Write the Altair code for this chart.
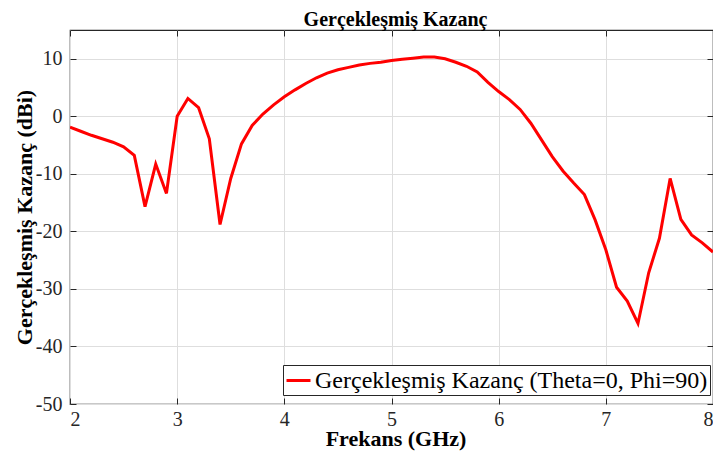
import altair as alt
import pandas as pd

freq = [2.0, 2.1, 2.2, 2.3, 2.4, 2.5, 2.6, 2.7, 2.8, 2.9,
        3.0, 3.1, 3.2, 3.3, 3.4, 3.5, 3.6, 3.7, 3.8, 3.9,
        4.0, 4.1, 4.2, 4.3, 4.4, 4.5, 4.6, 4.7, 4.8, 4.9,
        5.0, 5.1, 5.2, 5.3, 5.4, 5.5, 5.6, 5.7, 5.8, 5.9,
        6.0, 6.1, 6.2, 6.3, 6.4, 6.5, 6.6, 6.7, 6.8, 6.9,
        7.0, 7.1, 7.2, 7.3, 7.4, 7.5, 7.6, 7.7, 7.8, 7.9, 8.0]
gain = [-1.9, -2.6, -3.3, -3.9, -4.5, -5.3, -6.8, -15.7, -8.3, -13.4,
        0.0, 3.1, 1.5, -3.9, -18.8, -10.8, -4.8, -1.6, 0.4, 2.0,
        3.4, 4.6, 5.7, 6.7, 7.5, 8.1, 8.5, 8.9, 9.2, 9.4,
        9.7, 9.9, 10.1, 10.3, 10.3, 10.0, 9.4, 8.7, 7.7, 5.9,
        4.3, 2.9, 1.2, -1.2, -4.1, -7.0, -9.5, -11.6, -13.6, -18.0,
        -23.2, -29.7, -32.1, -36.0, -27.2, -21.2, -10.8, -17.9, -20.6, -22.0, -23.6]
series_name = "Gerçekleşmiş Kazanç (Theta=0, Phi=90)"
chart_title = "Gerçekleşmiş Kazanç"
x_title = "Frekans (GHz)"
y_title = "Gerçekleşmiş Kazanç (dBi)"
x_ticks = [2, 3, 4, 5, 6, 7, 8]
y_ticks = [10, 0, -10, -20, -30, -40, -50]

df = pd.DataFrame({"f": freq, "g": gain, "s": [series_name] * len(freq)})
tdf = pd.DataFrame({"t": [chart_title]})

W, H = 643, 374
FONT = "Liberation Serif"
AX = "#262626"

xs = alt.Scale(domain=[2, 8], nice=False, zero=False)
ys = alt.Scale(domain=[-50, 15], nice=False, zero=False)

base = alt.Chart(df)

main = base.mark_line(strokeWidth=3, clip=True).encode(
    x=alt.X("f:Q", scale=xs, axis=alt.Axis(
        values=x_ticks, title=x_title, grid=True, gridColor="#dedede",
        ticks=False, tickSize=0, domain=False, labelFont=FONT, labelFontSize=20,
        labelColor=AX, labelPadding=5, labelExpr="'' + datum.value",
        titleFont=FONT, titleFontSize=22,
        titleFontWeight="bold", titleColor="black", titleBaseline="alphabetic",
        titleY=41, titleX=W / 2 + 4, minExtent=0)),
    y=alt.Y("g:Q", scale=ys, axis=alt.Axis(
        values=y_ticks, title=y_title, grid=True, gridColor="#dedede",
        ticks=False, tickSize=0, domain=False, labelFont=FONT, labelFontSize=20,
        labelColor=AX, labelPadding=8, labelExpr="'' + datum.value",
        titleFont=FONT, titleFontSize=22,
        titleFontWeight="bold", titleColor="black", titleBaseline="alphabetic",
        titleAngle=270, titleX=-39, titleY=H / 2, titleAlign="center", minExtent=0)),
    color=alt.Color("s:N", scale=alt.Scale(range=["#ff0000"]), legend=alt.Legend(
        title=None, orient="none", legendX=213, legendY=335, padding=2,
        strokeColor=AX, fillColor="white", symbolType="stroke", symbolSize=576,
        symbolStrokeWidth=3, labelFont=FONT, labelFontSize=24, labelColor="black",
        labelOffset=3, labelLimit=600)),
)


def tick_axis(values, orient, off):
    return alt.Axis(values=values, orient=orient, offset=off, labels=False, title=None,
                    grid=False, domain=False, ticks=True, tickSize=6, tickColor=AX,
                    minExtent=0, maxExtent=6)


ticksA = base.mark_line(opacity=0).encode(
    x=alt.X("f:Q", scale=xs, axis=tick_axis(x_ticks, "top", -H)),
    y=alt.Y("g:Q", scale=ys, axis=tick_axis(y_ticks, "right", -W)),
)
ticksB = base.mark_line(opacity=0).encode(
    x=alt.X("f:Q", scale=xs, axis=tick_axis(x_ticks, "bottom", -H)),
    y=alt.Y("g:Q", scale=ys, axis=tick_axis(y_ticks, "left", -W)),
)

title_layer = alt.Chart(tdf).mark_text(
    font=FONT, fontSize=20, fontWeight="bold", color="black",
    align="center", baseline="alphabetic"
).encode(text="t:N", x=alt.value(W / 2 + 4), y=alt.value(-4))

chart = alt.layer(main, ticksA, ticksB, title_layer).resolve_scale(
    x="independent", y="independent"
).resolve_axis(
    x="independent", y="independent"
).properties(
    width=W, height=H,
    autosize=alt.AutoSizeParams(type="none"),
    padding={"left": 62, "top": 22, "right": 0, "bottom": 48},
    background="white",
).configure_view(
    stroke=AX, strokeWidth=1.2
)

chart.save("out.html", embed_options={"renderer": "svg", "actions": False})
